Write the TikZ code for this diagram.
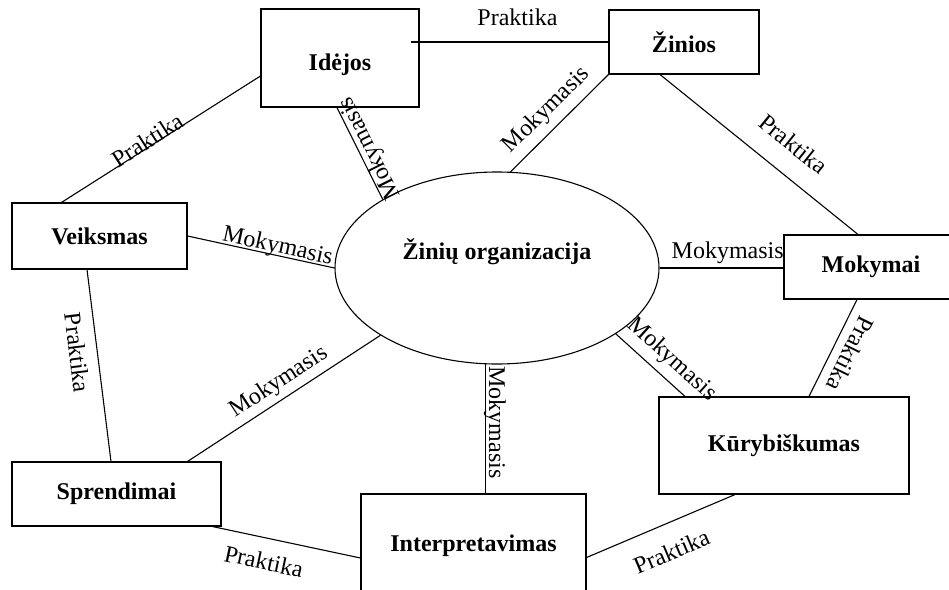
\documentclass[tikz,border=0pt]{standalone}
\usepackage{fontspec}
\setmainfont{Liberation Serif}
\usetikzlibrary{positioning, shapes.geometric, calc}
\tikzset{
  every picture/.style={line width=1.1pt, x=1pt, y=1pt},
  boxtext/.style={font=\fontsize{24}{28}\selectfont\bfseries},
  box/.style={draw, rectangle, inner sep=0pt, align=center, boxtext},
  hub/.style={draw, ellipse, inner sep=0pt, minimum width=324pt, minimum height=192pt},
  lbl/.style={font=\fontsize{24}{28}\selectfont, inner sep=0pt, text depth=0pt, sloped},
}

\begin{document}
\begin{tikzpicture}
  \useasboundingbox (0,0) rectangle (949,-589);
  \clip (0,0) rectangle (949,-589);
  % centre
  \node[hub] (org) at (497,-268) {};
  \node[boxtext] (orgtitle) at (497,-252) {Žinių organizacija};
  % outer boxes
  \node[box, minimum width=158pt, minimum height=98pt, text height=30pt] (idejos) at (340,-58) {Idėjos};
  \node[box, minimum width=150pt, minimum height=64pt] (zinios) at (684,-42) {Žinios};
  \node[box, minimum width=175pt, minimum height=66pt] (veiksmas) at (99.5,-236) {Veiksmas};
  \node[box, minimum width=209pt, minimum height=64pt] (sprendimai) at (116.5,-494) {Sprendimai};
  \node[box, minimum width=225pt, minimum height=103pt] (interp) at (473.5,-545.5) {Interpretavimas};
  \node[box, minimum width=174pt, minimum height=64pt] (mokymai) at (871,-267) {Mokymai};
  \node[box, minimum width=250pt, minimum height=97pt] (kury) at (784,-445.5) {Kūrybiškumas};
  % Praktika links
  \draw ([xshift=-9pt]idejos.east |- zinios.west) -- (zinios.west)
    node[lbl, pos=0.54, above=16pt] (p1) {Praktika};
  \draw ([xshift=-38pt]veiksmas.north) -- ([yshift=-18pt]idejos.west)
    node[lbl, pos=0.45, above=-2pt] (p2) {Praktika};
  \draw ([xshift=-24pt]zinios.south) -- ([xshift=-13pt]mokymai.north)
    node[lbl, pos=0.58, above=21pt] (p3) {Praktika};
  \draw ([xshift=-12.5pt]veiksmas.south) -- ([xshift=-5.5pt]sprendimai.north)
    node[lbl, allow upside down, pos=0.42, below=11pt] (p4) {Praktika};
  \draw ([xshift=-9pt]sprendimai.south east) -- ([yshift=-12.5pt]interp.west)
    node[lbl, pos=0.38, below=14.5pt] (p5) {Praktika};
  \draw ([yshift=-12pt]interp.east) -- ([xshift=-49pt]kury.south)
    node[lbl, pos=0.5, below=18.5pt] (p6) {Praktika};
  \draw ([xshift=-14pt]mokymai.south) -- ([xshift=25pt]kury.north)
    node[lbl, allow upside down, pos=0.475, above=9.5pt] (p7) {Praktika};
  % Mokymasis links
  \draw (org.149) -- ([xshift=-3pt]idejos.south)
    node[lbl, allow upside down, midway, below=0pt] (m1) {Mokymasis};
  \draw (org.82) -- (zinios.south west)
    node[lbl, midway, above=12pt] (m2) {Mokymasis};
  \draw (veiksmas.east) -- (org.west)
    node[lbl, pos=0.6, above=2pt] (m3) {Mokymasis};
  \draw ([xshift=-34pt]sprendimai.north east) -- (org.210)
    node[lbl, pos=0.52, above=10pt] (m4) {Mokymasis};
  \draw (org.263) -- (org.263 |- interp.north)
    node[lbl, allow upside down, pos=0.45, above=3.5pt] (m5) {Mokymasis};
  \draw (org.331) -- ([xshift=-99pt]kury.north)
    node[lbl, pos=0.63, above=12pt] (m6) {Mokymasis};
  \draw (org.east) -- (org.east -| mokymai.west)
    node[lbl, pos=0.55, above=9pt] (m7) {Mokymasis};
\end{tikzpicture}
\end{document}
